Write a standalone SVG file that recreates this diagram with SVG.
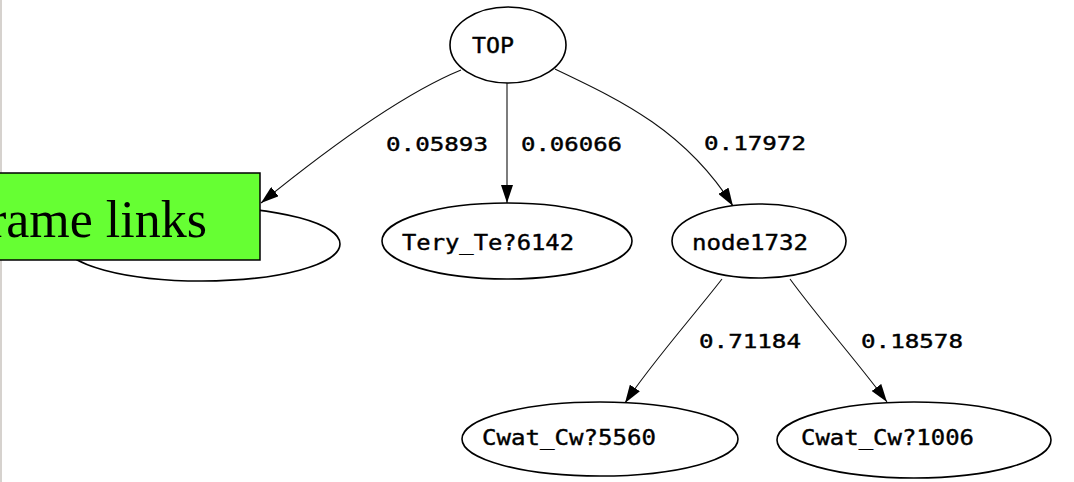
<svg xmlns="http://www.w3.org/2000/svg" width="1074" height="482" viewBox="0 0 1074 482">
  <defs>
    <marker id="arrow" viewBox="0 0 18 12" refX="18" refY="6" markerWidth="18" markerHeight="12" markerUnits="userSpaceOnUse" orient="auto">
      <path d="M0,0 L18,6 L0,12 z" fill="#000"/>
    </marker>
    <style>
      .node ellipse { fill: #fff; stroke: #000; stroke-width: 1.6; }
      .node text { font-family: "DejaVu Sans Mono", "Liberation Mono", monospace; font-size: 22px; fill: #000; stroke: #000; stroke-width: 0.4; }
      .edge { fill: none; stroke: #111; stroke-width: 1.1; marker-end: url(#arrow); }
      .elabel { font-family: "DejaVu Sans Mono", "Liberation Mono", monospace; font-size: 19px; fill: #000; stroke: #000; stroke-width: 0.4; }
      .callout rect { fill: #66ff33; stroke: #000; stroke-width: 1.5; }
      .callout text { font-family: "Liberation Serif", "Times New Roman", serif; font-size: 52px; fill: #000; }
    </style>
  </defs>

  <rect x="0" y="0" width="1074" height="482" fill="#fff"/>
  <!-- window edge on the left -->
  <rect x="0" y="0" width="2" height="482" fill="#d6d2ce"/>

  <g id="connectors">
    <path class="edge" d="M461,70 C400,95 320,155 261,203"/>
    <path class="edge" d="M507,83 L507,203"/>
    <path class="edge" d="M555,69 C620,100 685,130 733,206"/>
    <path class="edge" d="M722,279 C690,320 650,365 625,403"/>
    <path class="edge" d="M790,279 C820,320 860,365 887,402"/>
    <text class="elabel" x="386" y="151" textLength="102" lengthAdjust="spacingAndGlyphs">0.05893</text>
    <text class="elabel" x="521" y="151" textLength="101" lengthAdjust="spacingAndGlyphs">0.06066</text>
    <text class="elabel" x="704" y="150" textLength="102" lengthAdjust="spacingAndGlyphs">0.17972</text>
    <text class="elabel" x="699" y="348" textLength="102" lengthAdjust="spacingAndGlyphs">0.71184</text>
    <text class="elabel" x="861" y="348" textLength="102" lengthAdjust="spacingAndGlyphs">0.18578</text>
  </g>

  <g id="node-top" class="node">
    <ellipse cx="508" cy="45" rx="58" ry="38"/>
    <text x="472" y="53" textLength="42" lengthAdjust="spacingAndGlyphs">TOP</text>
  </g>

  <g id="node-left" class="node">
    <ellipse cx="202" cy="244" rx="138" ry="37"/>
  </g>

  <g id="node-tery" class="node">
    <ellipse cx="507" cy="241" rx="125" ry="38"/>
    <text x="402" y="250" textLength="172" lengthAdjust="spacingAndGlyphs">Tery_Te?6142</text>
  </g>

  <g id="node-1732" class="node">
    <ellipse cx="759" cy="241" rx="87" ry="37"/>
    <text x="692" y="250" textLength="116" lengthAdjust="spacingAndGlyphs">node1732</text>
  </g>

  <g id="node-5560" class="node">
    <ellipse cx="600" cy="439" rx="138" ry="37"/>
    <text x="482" y="445" textLength="174" lengthAdjust="spacingAndGlyphs">Cwat_Cw?5560</text>
  </g>

  <g id="node-1006" class="node">
    <ellipse cx="914" cy="440" rx="137" ry="38"/>
    <text x="801" y="445" textLength="173" lengthAdjust="spacingAndGlyphs">Cwat_Cw?1006</text>
  </g>

  <g id="callout" class="callout">
    <rect x="-20" y="173" width="280" height="87"/>
    <text x="207" y="237" text-anchor="end">rame links</text>
  </g>
</svg>
